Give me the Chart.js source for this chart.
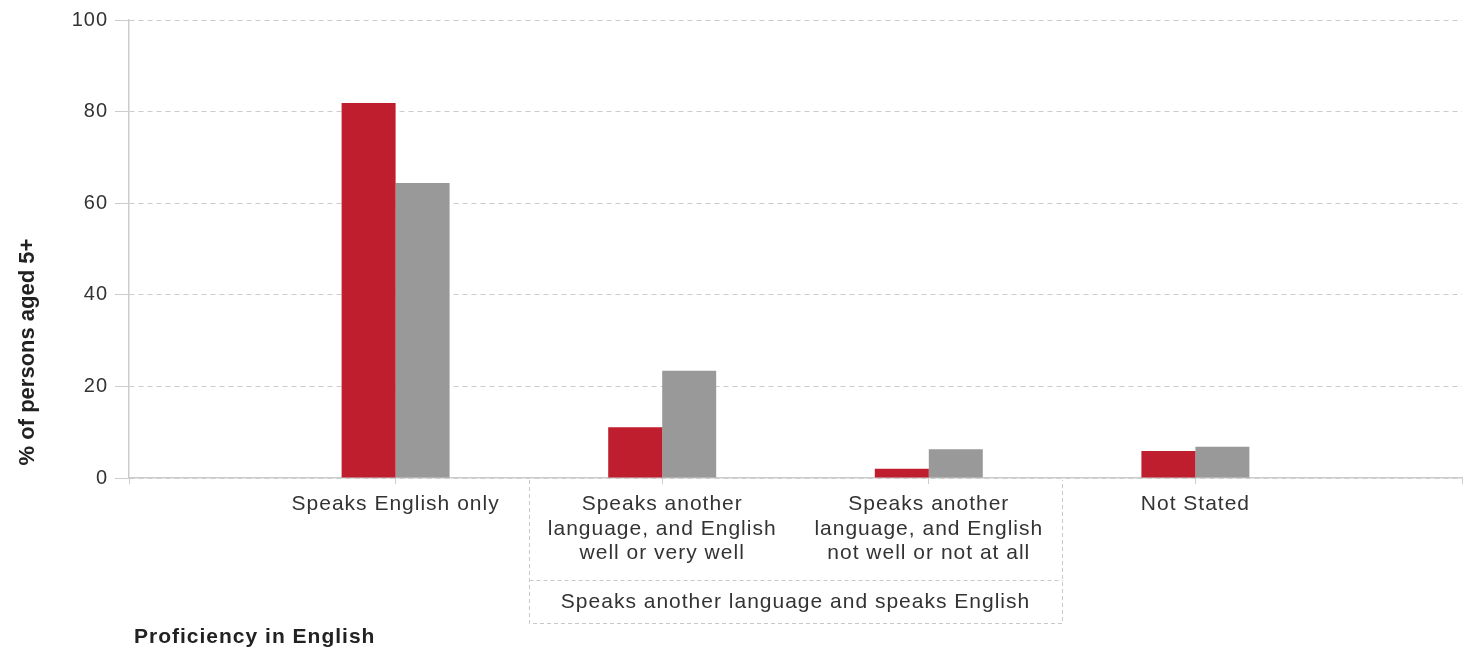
<!DOCTYPE html>
<html>
<head>
<meta charset="utf-8">
<script src="https://cdn.jsdelivr.net/npm/chart.js@4/dist/chart.umd.min.js"></script>
<style>
    html, body { margin: 0; padding: 0; background: #fff; }
    #wrap { width: 1470px; height: 653px; position: relative; }
</style>
</head>
<body>
<div id="wrap"><canvas id="proficiencyChart"></canvas></div>
<script>
'use strict';

const categories = [
    'Speaks English only',
    ['Speaks another', 'language, and English', 'well or very well'],
    ['Speaks another', 'language, and English', 'not well or not at all'],
    'Not Stated'
];
const areaValues = [81.9, 11.1, 2.0, 5.9];
const stateValues = [64.4, 23.4, 6.3, 6.8];
const yTicks = [0, 20, 40, 60, 80, 100];

const groupLabel = 'Speaks another language and speaks English';
const groupFirst = 1;
const groupLast = 2;
const yTitle = '% of persons aged 5+';
const xTitle = 'Proficiency in English';

const FONT = '"Liberation Sans", Arial, sans-serif';

// empty slots at both ends so the categories sit at 1/5 .. 4/5 of the width
const labels = [''].concat(categories, ['']);
const pad = arr => [null].concat(arr, [null]);

// the original text is set a little looser than the plain font
const looseText = {
    id: 'looseText',
    beforeUpdate(chart) { chart.ctx.letterSpacing = '1px'; },
    beforeDraw(chart) { chart.ctx.letterSpacing = '1px'; }
};

const extraText = {
    id: 'extraText',
    afterDraw(chart) {
        const ctx = chart.ctx;
        const x = chart.scales.x;
        const area = chart.chartArea;

        // y title
        ctx.save();
        ctx.letterSpacing = '0px';
        ctx.fillStyle = '#222';
        ctx.font = 'bold 22px ' + FONT;
        ctx.translate(28, 352);
        ctx.rotate(-Math.PI / 2);
        ctx.textAlign = 'center';
        ctx.textBaseline = 'middle';
        ctx.fillText(yTitle, 0, 0);
        ctx.restore();

        // x title
        ctx.save();
        ctx.letterSpacing = '1px';
        ctx.fillStyle = '#222';
        ctx.font = 'bold 21px ' + FONT;
        ctx.textAlign = 'left';
        ctx.textBaseline = 'middle';
        ctx.fillText(xTitle, 134, 637);
        ctx.restore();

        // group box under two categories
        const left = (x.getPixelForValue(groupFirst) + x.getPixelForValue(groupFirst + 1)) / 2;
        const right = (x.getPixelForValue(groupLast + 1) + x.getPixelForValue(groupLast + 2)) / 2;
        const top = area.bottom + 2;
        const mid = 580;
        const bottom = 623;
        ctx.save();
        ctx.strokeStyle = '#c8c8c8';
        ctx.lineWidth = 1;
        ctx.setLineDash([4, 3]);
        ctx.beginPath();
        ctx.moveTo(Math.round(left) + 0.5, top);
        ctx.lineTo(Math.round(left) + 0.5, bottom + 0.5);
        ctx.lineTo(Math.round(right) + 0.5, bottom + 0.5);
        ctx.lineTo(Math.round(right) + 0.5, top);
        ctx.moveTo(Math.round(left) + 0.5, mid + 0.5);
        ctx.lineTo(Math.round(right) + 0.5, mid + 0.5);
        ctx.stroke();
        ctx.setLineDash([]);
        ctx.letterSpacing = '1px';
        ctx.fillStyle = '#333';
        ctx.font = '21px ' + FONT;
        ctx.textAlign = 'center';
        ctx.textBaseline = 'middle';
        ctx.fillText(groupLabel, (left + right) / 2, 602);
        ctx.restore();
    }
};

const ctx = document.getElementById('proficiencyChart').getContext('2d');

new Chart(ctx, {
    type: 'bar',
    data: {
        labels: labels,
        datasets: [{
            label: 'Area',
            data: pad(areaValues),
            backgroundColor: '#be1e2d',
            categoryPercentage: 0.405,
            barPercentage: 1
        }, {
            label: 'State',
            data: pad(stateValues),
            backgroundColor: '#999999',
            categoryPercentage: 0.405,
            barPercentage: 1
        }]
    },
    options: {
        responsive: true,
        maintainAspectRatio: false,
        animation: false,
        layout: { padding: { top: 20, right: 7, left: 0, bottom: 0 } },
        plugins: {
            legend: { display: false },
            tooltip: { enabled: false }
        },
        scales: {
            x: {
                offset: false,
                afterFit(scale) { scale.height = 175; },
                grid: {
                    offset: false,
                    drawOnChartArea: false,
                    drawTicks: true,
                    tickLength: 6,
                    color: '#cccccc'
                },
                border: { display: true, color: '#cccccc', width: 1.5 },
                ticks: {
                    autoSkip: false,
                    maxRotation: 0,
                    padding: 8,
                    color: '#333',
                    font: { family: FONT, size: 21, lineHeight: 1.17 }
                }
            },
            y: {
                min: 0,
                max: 100,
                afterFit(scale) { scale.width = 129; },
                afterBuildTicks(scale) { scale.ticks = yTicks.map(v => ({ value: v })); },
                grid: {
                    color: '#cccccc',
                    tickLength: 14,
                    tickBorderDash: [],
                    tickColor: '#cccccc'
                },
                border: { display: true, color: '#cccccc', width: 1.5, dash: [5, 4] },
                ticks: {
                    padding: 7,
                    color: '#333',
                    font: { family: FONT, size: 20 }
                }
            }
        }
    },
    plugins: [looseText, extraText]
});
</script>
</body>
</html>
